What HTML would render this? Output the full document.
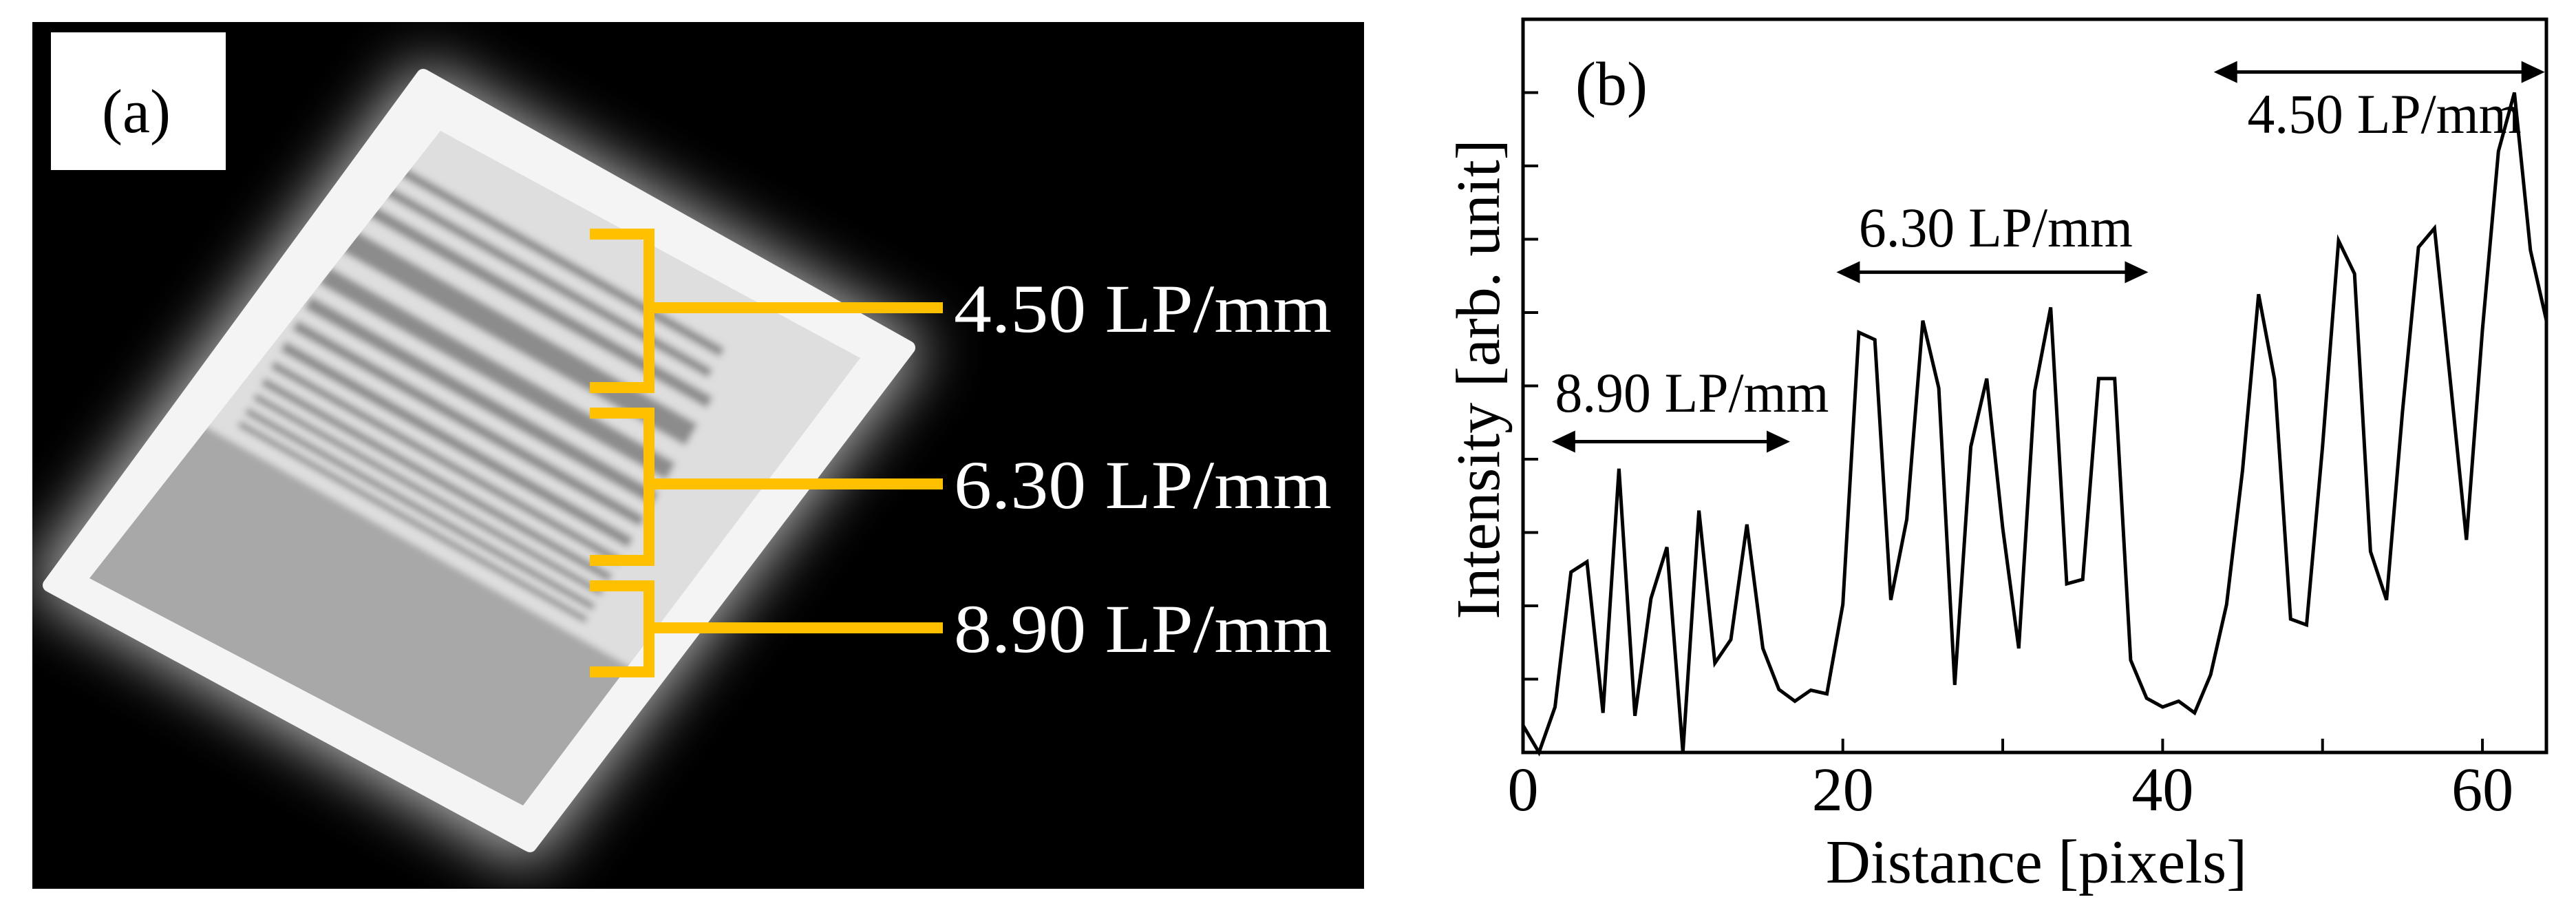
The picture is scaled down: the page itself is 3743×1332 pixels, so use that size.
<!DOCTYPE html>
<html><head><meta charset="utf-8"><style>
html,body{margin:0;padding:0;background:#fff;}
svg{display:block;font-family:"Liberation Serif",serif;}
</style></head><body>
<svg id="fig" width="3743" height="1332" viewBox="0 0 3743 1332" xmlns="http://www.w3.org/2000/svg">
<defs>
<filter id="glow" x="-50%" y="-50%" width="200%" height="200%"><feGaussianBlur stdDeviation="45"/></filter>
<filter id="soft" x="-20%" y="-20%" width="140%" height="140%"><feGaussianBlur stdDeviation="5"/></filter>
<clipPath id="inner"><polygon points="640,190 1250,520 760,1170 130,840"/></clipPath>
</defs>
<g>
<rect x="47" y="32" width="1935" height="1259" fill="#000"/>
<polygon points="610,90 1350,500 770,1260 40,850" fill="#fff" opacity="0.75" filter="url(#glow)"/>
<polygon points="615,110 1320,505 770,1228 72,850" fill="#f4f4f4" stroke="#f4f4f4" stroke-width="20" stroke-linejoin="round"/>
<g clip-path="url(#inner)" filter="url(#soft)">
<g transform="translate(690,680) rotate(29.5)">
<rect x="-420" y="-520" width="840" height="1040" fill="#dedede"/>
<g fill="#8c8c8c">
<rect x="-330" y="-330" width="560" height="14"/><rect x="-330" y="-295" width="560" height="14"/>
<rect x="-330" y="-260" width="580" height="18"/><rect x="-330" y="-215" width="580" height="36"/>
<rect x="-330" y="-150" width="580" height="28"/><rect x="-330" y="-100" width="580" height="20"/>
<rect x="-330" y="-60" width="580" height="16"/><rect x="-330" y="-25" width="580" height="16"/>
<rect x="-330" y="8" width="580" height="12"/><rect x="-330" y="36" width="580" height="12"/>
<rect x="-330" y="62" width="580" height="10"/><rect x="-330" y="86" width="580" height="10"/>
<rect x="-330" y="108" width="580" height="9"/>
</g>
<rect x="-420" y="140" width="840" height="400" fill="#a8a8a8"/>
</g>
</g>
<rect x="74" y="47" width="254" height="200" fill="#fff"/>
<text x="198" y="192" font-size="90" text-anchor="middle" fill="#000">(a)</text>
<g fill="none" stroke="#FFC000" stroke-width="16">
<path d="M857,340 H943 V563 H857"/><path d="M943,447 H1370"/>
<path d="M857,600 H943 V814 H857"/><path d="M943,703 H1370"/>
<path d="M857,851 H943 V976 H857"/><path d="M943,912 H1370"/>
</g>
<text x="1386" y="482" font-size="100" textLength="549" lengthAdjust="spacingAndGlyphs" fill="#fff">4.50 LP/mm</text>
<text x="1386" y="738" font-size="100" textLength="549" lengthAdjust="spacingAndGlyphs" fill="#fff">6.30 LP/mm</text>
<text x="1386" y="947" font-size="100" textLength="549" lengthAdjust="spacingAndGlyphs" fill="#fff">8.90 LP/mm</text>
</g>
<g id="chart"></g>
</svg>
<script>
const xValues = [0,1,2,3,4,5,6,7,8,9,10,11,12,13,14,15,16,17,18,19,20,21,22,23,24,25,26,27,28,29,30,31,32,33,34,35,36,37,38,39,40,41,42,43,44,45,46,47,48,49,50,51,52,53,54,55,56,57,58,59,60,61,62,63,64];
const intensity = [0.37,0,0.62,2.46,2.6,0.54,3.87,0.5,2.1,2.8,0,3.3,1.22,1.54,3.11,1.42,0.86,0.7,0.85,0.8,2.02,5.73,5.63,2.08,3.18,5.89,4.97,0.92,4.17,5.1,3.06,1.42,4.93,6.07,2.3,2.36,5.1,5.1,1.26,0.74,0.62,0.7,0.54,1.06,2.02,3.85,6.25,5.09,1.82,1.74,4.17,6.98,6.53,2.74,2.08,4.65,6.89,7.15,5.05,2.9,5.77,8.2,9.0,6.85,5.89];
const xTicks = [0,10,20,30,40,50,60];
const xTickLabels = [0,20,40,60];
const yTicks = [1,2,3,4,5,6,7,8,9];
const annLabels = ["8.90 LP/mm","6.30 LP/mm","4.50 LP/mm"];
const annStart = [1.8,19.6,43.2];
const annEnd = [16.7,39.1,63.9];
const annY = [4.24,6.55,9.28];
const annLabelX = [2.0,21.0,45.3];
const annLabelY = [4.65,6.9,8.45];

const NS="http://www.w3.org/2000/svg";
const L=2213,R=3700,T=28,B=1093,XMAX=64,YMAX=10;
const sx=v=>L+(v/XMAX)*(R-L);
const sy=v=>B-(v/YMAX)*(B-T);
const g=document.getElementById('chart');
function mk(tag,attrs,parent){const e=document.createElementNS(NS,tag);for(const k in attrs)e.setAttribute(k,attrs[k]);(parent||g).appendChild(e);return e;}

const frame=mk('rect',{x:L,y:T,width:R-L,height:B-T,fill:'none',stroke:'#000','stroke-width':5});


xTicks.forEach(t=>{const e=mk('line',{x1:sx(t),x2:sx(t),y1:B,y2:B-20,stroke:'#000','stroke-width':4});

});
xTickLabels.forEach(t=>{const e=mk('text',{x:sx(t),y:1177,'font-size':90,'text-anchor':'middle'});e.textContent=t;

});
yTicks.forEach(t=>{const e=mk('line',{x1:L,x2:L+22,y1:sy(t),y2:sy(t),stroke:'#000','stroke-width':4});

});
const xt=mk('text',{x:2959,y:1282,'font-size':90,'text-anchor':'middle'});xt.textContent='Distance [pixels]';


const yt=mk('text',{x:0,y:0,'font-size':90,'text-anchor':'middle',transform:'translate(2178,551) rotate(-90)'});yt.textContent='Intensity [arb. unit]';


const bl=mk('text',{x:2289,y:152,'font-size':90});bl.textContent='(b)';



const pts=xValues.map((x,i)=>sx(x).toFixed(1)+','+sy(intensity[i]).toFixed(1)).join(' ');
const line=mk('polyline',{points:pts,fill:'none',stroke:'#000','stroke-width':5,'stroke-linejoin':'miter'});



annLabels.forEach((lab,i)=>{
  const y=sy(annY[i]),x1=sx(annStart[i]),x2=sx(annEnd[i]),h=34,hw=16;
  const ln=mk('line',{x1:x1+20,x2:x2-20,y1:y,y2:y,stroke:'#000','stroke-width':5});
  
  
  const a1=mk('polygon',{points:`${x1},${y} ${x1+h},${y-hw} ${x1+h},${y+hw}`,fill:'#000'});
  
  
  const a2=mk('polygon',{points:`${x2},${y} ${x2-h},${y-hw} ${x2-h},${y+hw}`,fill:'#000'});
  
  
  const t=mk('text',{x:sx(annLabelX[i]),y:sy(annLabelY[i]),'font-size':82,textLength:398,lengthAdjust:'spacingAndGlyphs'});t.textContent=lab;
  
  
});
</script>
</body></html>
